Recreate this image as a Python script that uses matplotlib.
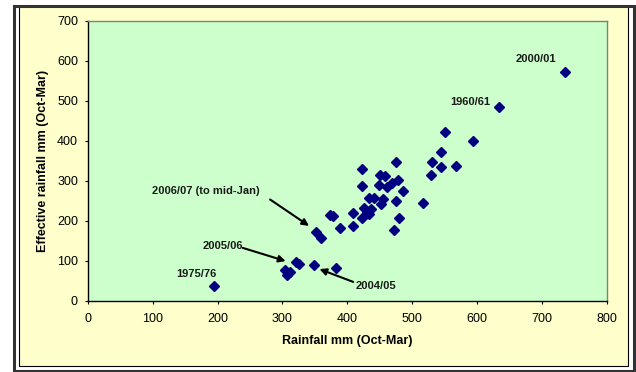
# effective rainfall vs total rainfall (Oct-Mar), one point per winter
import numpy as np
from matplotlib import pyplot as plt
from matplotlib.patches import Rectangle

plt.rcParams['font.family'] = ['Liberation Sans', 'DejaVu Sans']

rain = [195, 304, 312, 307, 321, 326, 348, 383, 351, 359,
        374, 378, 389, 409, 409, 422, 423, 423, 425, 430,
        434, 436, 434, 441, 448, 450, 458, 452, 455, 461,
        469, 472, 475, 475, 478, 480, 486, 516, 529, 531,
        544, 545, 550, 567, 594, 634, 736]
eff = [38, 78, 72, 65, 97, 92, 90, 82, 173, 156,
       214, 211, 181, 219, 186, 287, 330, 208, 232, 222,
       217, 229, 257, 257, 290, 315, 313, 242, 254, 285,
       295, 178, 346, 249, 302, 207, 275, 244, 315, 346,
       333, 371, 422, 336, 399, 485, 572]

# labelled years: text position, arrow tail, arrow tip (None = no arrow)
labels = ["2000/01", "1960/61", "1975/76", "2005/06", "2006/07 (to mid-Jan)", "2004/05"]
text_xy = [(691, 603), (590, 497), (168, 66), (208, 137), (182, 274), (444, 37)]
arrow_from = [None, None, None, (239, 132), (281, 253), (409, 47)]
arrow_to = [None, None, None, (305, 99), (341, 187), (357, 79)]

W, H = 636, 372
fig = plt.figure(figsize=(W/100, H/100), dpi=100, facecolor="white")

# chart frame: yellow area, thin black inner border, dark outer border
fig.patches.append(Rectangle((19/W, 1-366/H), 609/W, 360/H, transform=fig.transFigure,
                             facecolor="#FFFFCC", edgecolor="black", lw=0.8, zorder=-2))
fig.patches.append(Rectangle((14.5/W, 1-370.5/H), 619/W, 365/H, transform=fig.transFigure,
                             facecolor="none", edgecolor="#333333", lw=2.2, zorder=-1))

ax = fig.add_axes([87.7/W, 1-300.7/H, 519.3/W, 280/H])
ax.set_zorder(2)
ax.set_facecolor("#CCFFCC")
ax.plot(rain, eff, "D", color="#000080", markersize=4.8, linestyle="none", zorder=3)

for s in ["top", "right"]:
    ax.spines[s].set_color("#808080")
    ax.spines[s].set_linewidth(1.0)
for s in ["left", "bottom"]:
    ax.spines[s].set_color("black")
    ax.spines[s].set_linewidth(1.0)

ax.set_xlim(0, 800)
ax.set_ylim(0, 700)
ax.set_xticks(np.arange(0, 801, 100))
ax.set_yticks(np.arange(0, 701, 100))
ax.tick_params(direction="out", length=2.5, width=0.8, labelsize=9)
ax.tick_params(axis="x", pad=6.5)
ax.tick_params(axis="y", pad=4.5)

ax.set_xlabel("Rainfall mm (Oct-Mar)", fontsize=9, fontweight="bold", labelpad=7)
ax.set_ylabel("Effective rainfall mm (Oct-Mar)", fontsize=9, fontweight="bold", labelpad=6)

for lab, t, a0, a1 in zip(labels, text_xy, arrow_from, arrow_to):
    ax.text(t[0], t[1], lab, fontsize=8, fontweight="bold", ha="center", va="center",
            color="#1a1a1a")
    if a0 is not None:
        ax.annotate("", xy=a1, xytext=a0,
                    arrowprops=dict(arrowstyle="-|>", color="black", lw=1.5,
                                    mutation_scale=10, shrinkA=0, shrinkB=0))

fig.savefig("out.png", dpi=100, facecolor="white")
